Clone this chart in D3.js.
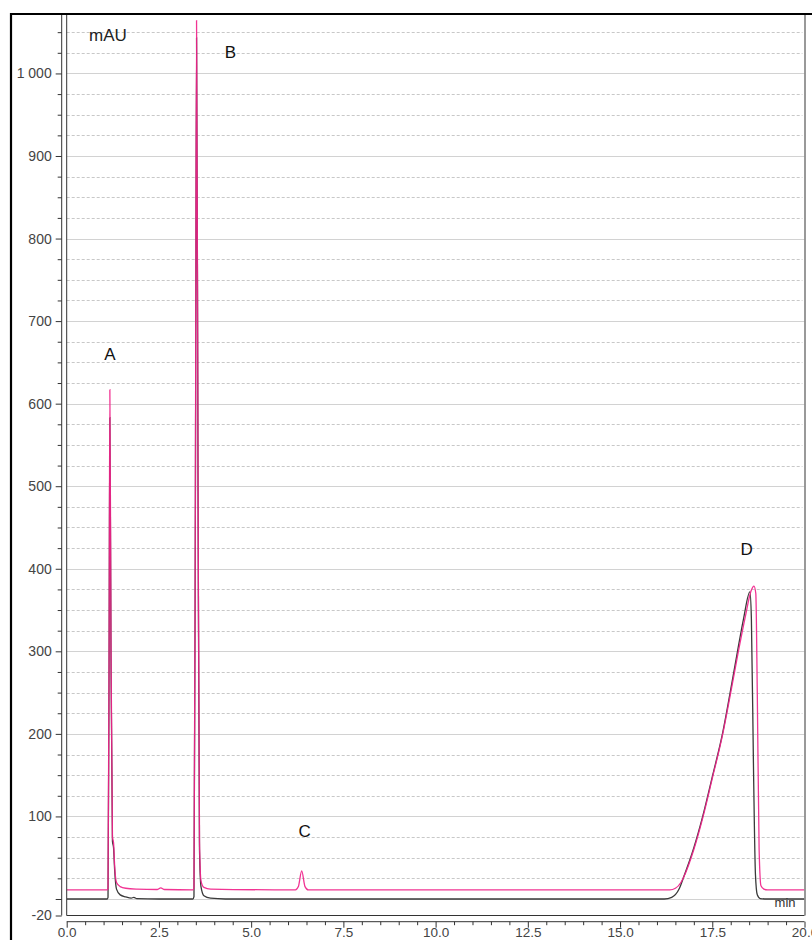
<!DOCTYPE html>
<html>
<head>
<meta charset="utf-8">
<script src="https://cdn.jsdelivr.net/npm/d3@7"></script>
<style>
  html, body { margin: 0; padding: 0; background: #fff; }
  svg { display: block; font-family: "Liberation Sans", Arial, sans-serif; }
</style>
</head>
<body>
<svg id="chart" width="812" height="940"></svg>
<script>
// Chromatogram: two overlaid detector traces (time in min, signal in mAU)
const blackTrace = [
  [0, 0], [1.10, 0], [1.12, 2], [1.15, 300], [1.17, 583], [1.20, 300], [1.24, 70],
  [1.27, 62], [1.30, 35], [1.35, 12], [1.45, 5], [1.60, 2.5], [1.75, 1], [1.82, 2],
  [1.90, 0.5], [2.50, 0], [3.42, 0], [3.45, 3], [3.49, 500], [3.52, 1043], [3.56, 500],
  [3.60, 60], [3.64, 15], [3.72, 4], [3.90, 1], [4.30, 0], [16.20, 0], [16.40, 2],
  [16.60, 12], [16.72, 26], [17.00, 62], [17.24, 100], [17.50, 148], [17.78, 201],
  [18.00, 254], [18.18, 299], [18.35, 340], [18.52, 372], [18.56, 340], [18.62, 150],
  [18.67, 30], [18.72, 5], [18.80, 0.5], [19.00, 0], [20, 0]
];
const pinkTrace = [
  [0, 11], [1.10, 11], [1.12, 13], [1.15, 320], [1.17, 617], [1.20, 320], [1.24, 75],
  [1.27, 68], [1.30, 40], [1.35, 20], [1.45, 15], [1.60, 13], [1.90, 12], [2.45, 11.5],
  [2.55, 13.5], [2.65, 11.5], [3.42, 11], [3.45, 14], [3.49, 520], [3.52, 1064],
  [3.56, 520], [3.60, 70], [3.64, 22], [3.72, 14], [3.90, 12], [6.20, 11], [6.28, 15],
  [6.37, 34], [6.46, 15], [6.55, 11], [16.35, 11], [16.50, 13], [16.65, 20], [16.72, 26],
  [17.00, 60], [17.24, 98], [17.50, 146], [17.78, 199], [18.00, 250], [18.20, 298],
  [18.40, 343], [18.55, 373], [18.63, 379], [18.68, 370], [18.72, 250], [18.77, 60],
  [18.82, 16], [18.90, 12], [19.00, 11], [20, 11]
];

// Peak annotations
const peakNames = ["A", "B", "C", "D"];
const peakLabelTimes = [1.17, 4.44, 6.45, 18.43];
const peakLabelValues = [660, 1025, 82, 423];

// Axis ticks
const yMajorTicks = [0, 100, 200, 300, 400, 500, 600, 700, 800, 900, 1000];
const yLabelTicks = [-20, 100, 200, 300, 400, 500, 600, 700, 800, 900, 1000];
const yMinorTicks = d3.range(25, 1075, 25).filter(v => v % 100 !== 0);
const xMajorTicks = [0, 2.5, 5, 7.5, 10, 12.5, 15, 17.5, 20];
const xMinorTicks = d3.range(0, 20.01, 0.5).filter(v => v % 2.5 !== 0);

const svg = d3.select("#chart");
const plot = { left: 66.7, right: 804.5, top: 14, bottom: 915.5 };

const x = d3.scaleLinear().domain([0, 20]).range([plot.left, plot.right]);
const y = d3.scaleLinear().domain([-20, 1072]).range([plot.bottom, plot.top]);

// Y tick label text: space as thousands separator, plain hyphen for negatives
const yLabel = d => d3.format(",")(d).replace(/,/g, " ").replace("\u2212", "-");

// Grid: dotted minor lines, solid major lines
svg.append("g").selectAll("line").data(yMinorTicks).join("line")
  .attr("x1", plot.left).attr("x2", plot.right - 2)
  .attr("y1", d => Math.round(y(d)) + 0.5).attr("y2", d => Math.round(y(d)) + 0.5)
  .attr("stroke", "#c8c8c8").attr("stroke-dasharray", "3,2");
svg.append("g").selectAll("line").data(yMajorTicks).join("line")
  .attr("x1", plot.left).attr("x2", plot.right)
  .attr("y1", d => Math.round(y(d)) + 0.5).attr("y2", d => Math.round(y(d)) + 0.5)
  .attr("stroke", "#d2d2d2");

// Traces
svg.append("clipPath").attr("id", "plotClip").append("rect")
  .attr("x", plot.left).attr("y", plot.top)
  .attr("width", plot.right - plot.left).attr("height", plot.bottom - plot.top);

const line = d3.line().x(d => x(d[0])).y(d => y(d[1])).curve(d3.curveMonotoneX);
const traces = svg.append("g").attr("clip-path", "url(#plotClip)");
traces.append("path").datum(blackTrace).attr("d", line)
  .attr("fill", "none").attr("stroke", "#3a3a3a").attr("stroke-width", 1.3);
traces.append("path").datum(pinkTrace).attr("d", line)
  .attr("fill", "none").attr("stroke", "#f0238a").attr("stroke-width", 1.3)
  .attr("stroke-opacity", 0.92);

// Plot frame
svg.append("line").attr("x1", plot.left).attr("x2", plot.left)
  .attr("y1", plot.top).attr("y2", plot.bottom).attr("stroke", "#333");
svg.append("line").attr("x1", plot.left).attr("x2", plot.right)
  .attr("y1", plot.bottom).attr("y2", plot.bottom).attr("stroke", "#333");
svg.append("line").attr("x1", plot.right + 0.5).attr("x2", plot.right + 0.5)
  .attr("y1", plot.top).attr("y2", plot.bottom).attr("stroke", "#777").attr("stroke-width", 1.5);

// Y axis (offset to the left of the plot)
const yAxisX = 61.7;
const yAxis = svg.append("g").attr("transform", `translate(${yAxisX},0)`);
yAxis.append("line").attr("x1", 0).attr("x2", 0)
  .attr("y1", plot.top).attr("y2", plot.bottom).attr("stroke", "#333");
yAxis.append("g").call(
  d3.axisLeft(y).tickValues(yMinorTicks).tickSize(4).tickFormat("")
).call(g => g.select(".domain").remove())
 .call(g => g.selectAll("line").attr("stroke", "#333"));
yAxis.append("g").call(
  d3.axisLeft(y).tickValues(yMajorTicks.concat([-20])).tickSize(6).tickPadding(4)
    .tickFormat(d => yLabelTicks.includes(d) ? yLabel(d) : "")
).call(g => g.select(".domain").remove())
 .call(g => g.selectAll("line").attr("stroke", "#333"))
 .call(g => g.selectAll("text").attr("font-size", 14).attr("fill", "#444")
   .attr("font-family", "Liberation Sans, Arial, sans-serif"));

// X axis (offset below the plot)
const xAxisY = 921.7;
const xAxis = svg.append("g").attr("transform", `translate(0,${xAxisY})`);
xAxis.append("line").attr("x1", plot.left).attr("x2", plot.right)
  .attr("y1", 0).attr("y2", 0).attr("stroke", "#333");
xAxis.append("g").call(
  d3.axisBottom(x).tickValues(xMinorTicks).tickSize(3.5).tickFormat("")
).call(g => g.select(".domain").remove())
 .call(g => g.selectAll("line").attr("stroke", "#333"));
xAxis.append("g").call(
  d3.axisBottom(x).tickValues(xMajorTicks).tickSize(6).tickPadding(0)
    .tickFormat(d3.format(".1f"))
).call(g => g.select(".domain").remove())
 .call(g => g.selectAll("line").attr("stroke", "#333"))
 .call(g => g.selectAll("text").attr("font-size", 13.5).attr("fill", "#444")
   .attr("dy", "0.66em")
   .attr("font-family", "Liberation Sans, Arial, sans-serif"));

// Unit labels
svg.append("text").attr("x", 89).attr("y", 41).text("mAU")
  .attr("font-size", 17).attr("fill", "#222");
svg.append("text").attr("x", plot.right - 9).attr("y", 907).text("min")
  .attr("text-anchor", "end").attr("font-size", 13).attr("fill", "#333");

// Peak labels
svg.append("g").selectAll("text").data(peakNames).join("text")
  .attr("x", (d, i) => x(peakLabelTimes[i]))
  .attr("y", (d, i) => y(peakLabelValues[i]))
  .attr("text-anchor", "middle").attr("dominant-baseline", "central")
  .attr("font-size", 17).attr("fill", "#111")
  .text(d => d);

// Outer frame
svg.append("line").attr("x1", 10).attr("x2", 812).attr("y1", 14).attr("y2", 14)
  .attr("stroke", "#000").attr("stroke-width", 2.2);
svg.append("line").attr("x1", 11).attr("x2", 11).attr("y1", 13).attr("y2", 940)
  .attr("stroke", "#000").attr("stroke-width", 2.2);
</script>
</body>
</html>
